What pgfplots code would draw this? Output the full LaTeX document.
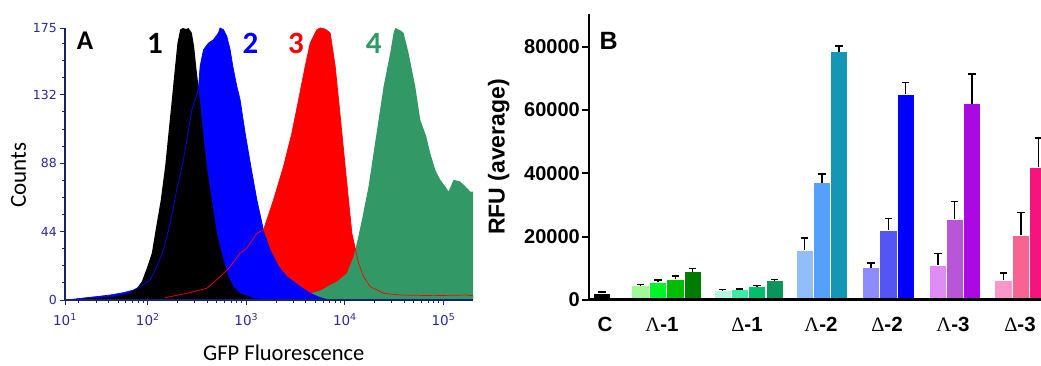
\documentclass[border=0pt]{standalone}
\usepackage{fontspec}
\setmainfont{Liberation Sans}
\newfontfamily\carlito{Carlito}
\newfontfamily\dejavu{DejaVu Sans}
\newfontfamily\lserif{Liberation Serif}
\usepackage{pgfplots}
\pgfplotsset{compat=1.18}
\definecolor{navyax}{RGB}{25,35,105}
\definecolor{navytxt}{RGB}{45,40,150}
\definecolor{hblue}{RGB}{0,0,255}
\definecolor{hred}{RGB}{255,0,0}
\definecolor{hgreen}{RGB}{50,152,102}
\definecolor{gA}{RGB}{160,248,150}
\definecolor{gB}{RGB}{0,245,40}
\definecolor{gC}{RGB}{0,190,0}
\definecolor{gD}{RGB}{0,125,0}
\definecolor{mA}{RGB}{180,245,225}
\definecolor{mB}{RGB}{60,235,170}
\definecolor{mC}{RGB}{0,190,110}
\definecolor{mD}{RGB}{10,150,90}
\definecolor{bA}{RGB}{145,190,250}
\definecolor{bB}{RGB}{85,160,250}
\definecolor{bC}{RGB}{20,150,180}
\definecolor{vA}{RGB}{140,140,255}
\definecolor{vB}{RGB}{85,85,245}
\definecolor{vC}{RGB}{0,0,255}
\definecolor{pA}{RGB}{225,140,245}
\definecolor{pB}{RGB}{185,85,215}
\definecolor{pC}{RGB}{170,10,225}
\definecolor{rA}{RGB}{250,150,200}
\definecolor{rB}{RGB}{248,100,145}
\definecolor{rC}{RGB}{245,20,125}
\pgfplotsset{
  rbar/.style={ybar, bar width=17.4, bar shift=0pt, draw=white, line width=0.5pt, fill=#1,
    error bars/.cd, y dir=plus, y explicit,
    error bar style={line width=1.5pt, black},
    error mark options={rotate=90, mark size=3.7pt, line width=1.5pt, black}},
}
\begin{document}
\begin{tikzpicture}[x=1pt,y=1pt]
\useasboundingbox (0,0) rectangle (1041,366);
% ---------------- Panel A ----------------
\begin{axis}[
  at={(65pt,66pt)}, anchor=south west, scale only axis,
  width=408pt, height=272pt,
  xmin=1.16, xmax=5.30, ymin=0, ymax=175,
  axis lines=left, axis line style={-, navyax},
  x axis line style={line width=1.8pt}, y axis line style={line width=1.2pt},
  xtick={1.16,2,3,4,5},
  xticklabels={10\textsuperscript{1},10\textsuperscript{2},10\textsuperscript{3},10\textsuperscript{4},10\textsuperscript{5}},
  minor xtick={1.301,1.477,1.602,1.699,1.778,1.845,1.903,1.954,
    2.301,2.477,2.602,2.699,2.778,2.845,2.903,2.954,
    3.301,3.477,3.602,3.699,3.778,3.845,3.903,3.954,
    4.301,4.477,4.602,4.699,4.778,4.845,4.903,4.954,5.301},
  ytick={0,44,88,132,175}, yticklabels={0,44,88,132,175},
  minor ytick={11,22,33,55,66,77,99,110,121,143,154,165},
  tick align=outside, major tick length=5pt, minor tick length=3pt,
  tick style={navyax, line width=0.9pt},
  yticklabel style={font=\dejavu\fontsize{12.5}{14}\selectfont, text=navytxt, inner sep=2pt, xshift=-1pt},
  xticklabel style={font=\dejavu\fontsize{13.5}{15}\selectfont, text=navytxt, yshift=-5pt},
  axis on top, clip=true,
]
\addplot[fill=hred, draw=none] coordinates {
(2.15,0)(2.176,1.5)(2.396,4.3)(2.599,7.5)(2.734,15)(2.836,21.5)(2.937,30.1)(3.005,33.3)(3.107,42.9)(3.174,45.1)(3.276,64.4)(3.377,85.9)(3.462,107.4)(3.530,128.8)(3.597,150.3)(3.648,165.3)(3.716,173.9)(3.750,175)(3.800,174.3)(3.851,171.8)(3.902,150.3)(3.936,128.8)(3.970,107.4)(4.003,85.9)(4.037,64.4)(4.071,42.9)(4.105,33.3)(4.139,23.6)(4.190,15)(4.257,8.6)(4.393,4.3)(4.562,3.2)(4.900,2.8)(5.239,3.2)(5.300,2.8)
} \closedcycle;
\addplot[fill=hgreen, draw=none] coordinates {
(3.2,0)(3.242,0.6)(3.445,1.5)(3.547,2.8)(3.648,4.3)(3.750,6.0)(3.851,9.7)(3.919,11.8)(4.020,17.2)(4.088,27.9)(4.129,38.6)(4.173,51.5)(4.240,73)(4.291,94.5)(4.342,115.9)(4.393,137.4)(4.460,158.9)(4.494,171.8)(4.511,175)(4.562,173.5)(4.596,171.8)(4.646,158.9)(4.714,137.4)(4.765,115.9)(4.826,105.2)(4.866,94.5)(4.917,83.7)(4.968,77.3)(5.019,73)(5.052,69.8)(5.103,77.3)(5.171,76.2)(5.222,73)(5.272,69.8)(5.300,69.8)
} \closedcycle;
\addplot[fill=hblue, draw=none] coordinates {
(1.20,0)(1.228,0.4)(1.381,1.5)(1.482,2.2)(1.618,3.2)(1.753,4.7)(1.854,6.4)(1.922,8.6)(2.024,12.9)(2.091,21.5)(2.159,32.2)(2.227,49.4)(2.294,70.9)(2.362,90.2)(2.413,109.5)(2.447,122.4)(2.491,131)(2.514,136.3)(2.531,150.3)(2.565,161)(2.616,165.3)(2.667,167.5)(2.717,171.8)(2.734,175)(2.768,173.9)(2.802,169.6)(2.836,161)(2.863,150.3)(2.904,137.4)(2.937,128.8)(2.988,107.4)(3.046,85.9)(3.107,64.4)(3.181,42.9)(3.242,32.2)(3.327,21.5)(3.411,15)(3.547,8.6)(3.648,4.3)(3.750,1.5)(3.817,0.4)(3.85,0)
} \closedcycle;
\addplot[fill=black, draw=none] coordinates {
(1.20,0)(1.228,0.4)(1.381,1.1)(1.516,1.5)(1.651,2.2)(1.787,3.9)(1.888,7.5)(1.939,11.8)(1.990,20.4)(2.041,30.1)(2.074,42.9)(2.132,64.4)(2.176,85.9)(2.210,107.4)(2.244,128.8)(2.277,150.3)(2.301,165.3)(2.328,173.9)(2.355,175)(2.389,174.3)(2.413,175)(2.447,171.8)(2.470,163.2)(2.491,150.3)(2.514,137.4)(2.548,115.9)(2.599,85.9)(2.650,64.4)(2.701,42.9)(2.768,25.8)(2.819,15.0)(2.870,8.6)(2.937,4.3)(3.073,1.1)(3.208,0)
} \closedcycle;
\addplot[hblue, line width=0.7pt] coordinates {
(1.20,0)(1.228,0.4)(1.381,1.5)(1.482,2.2)(1.618,3.2)(1.753,4.7)(1.854,6.4)(1.922,8.6)(2.024,12.9)(2.091,21.5)(2.159,32.2)(2.227,49.4)(2.294,70.9)(2.362,90.2)(2.413,109.5)(2.447,122.4)(2.491,131)(2.514,136.3)(2.531,150.3)(2.565,161)(2.616,165.3)(2.667,167.5)(2.717,171.8)(2.734,175)(2.768,173.9)(2.802,169.6)(2.836,161)(2.863,150.3)(2.904,137.4)(2.937,128.8)(2.988,107.4)(3.046,85.9)(3.107,64.4)(3.181,42.9)(3.242,32.2)(3.327,21.5)(3.411,15)(3.547,8.6)(3.648,4.3)(3.750,1.5)(3.817,0.4)(3.85,0)
};
\addplot[hred, line width=0.7pt] coordinates {
(2.176,1.5)(2.396,4.3)(2.599,7.5)(2.734,15)(2.836,21.5)(2.937,30.1)(3.005,33.3)(3.107,42.9)(3.174,45.1)(3.276,64.4)(3.377,85.9)(3.462,107.4)(3.530,128.8)(3.597,150.3)(3.648,165.3)(3.716,173.9)(3.750,175)(3.800,174.3)(3.851,171.8)(3.902,150.3)(3.936,128.8)(3.970,107.4)(4.003,85.9)(4.037,64.4)(4.071,42.9)(4.105,33.3)(4.139,23.6)(4.190,15)(4.257,8.6)(4.393,4.3)(4.562,3.2)(4.900,2.8)(5.239,3.2)(5.300,2.8)
};
\end{axis}
% ---------------- Panel B ----------------
\begin{axis}[
  at={(589pt,66pt)}, anchor=south west, scale only axis,
  width=452pt, height=286pt,
  xmin=589, xmax=1041, ymin=0, ymax=90300,
  axis lines=left, axis line style={-, black},
  x axis line style={line width=3pt}, y axis line style={line width=2.2pt},
  ytick={0,20000,40000,60000,80000}, yticklabels={0,20000,40000,60000,80000},
  scaled y ticks=false,
  xtick={605,662,747,821,887,953,1020},
  xticklabels={C,{\lserif\mdseries Λ}-1,{\lserif\mdseries Δ}-1,{\lserif\mdseries Λ}-2,{\lserif\mdseries Δ}-2,{\lserif\mdseries Λ}-3,{\lserif\mdseries Δ}-3},
  x tick style={draw=none}, y tick style={line width=2.2pt, black},
  tick align=outside, major tick length=7pt,
  yticklabel style={font=\bfseries\fontsize{20}{24}\selectfont, inner sep=1pt, xshift=-1pt},
  xticklabel style={font=\bfseries\fontsize{20.5}{24}\selectfont, yshift=-7pt},
  axis on top, clip=true,
]
\addplot[rbar=black] coordinates {(602,2100) +- (0,430)};
\addplot[rbar=gA] coordinates {(640.3,4530) +- (0,310)};
\addplot[rbar=gB] coordinates {(657.8,5580) +- (0,740)};
\addplot[rbar=gC] coordinates {(675.3,6530) +- (0,1050)};
\addplot[rbar=gD] coordinates {(692.7,8950) +- (0,1050)};
\addplot[rbar=mA] coordinates {(722.5,3050) +- (0,210)};
\addplot[rbar=mB] coordinates {(739.7,3260) +- (0,210)};
\addplot[rbar=mC] coordinates {(757,4210) +- (0,320)};
\addplot[rbar=mD] coordinates {(774.7,6110) +- (0,310)};
\addplot[rbar=bA] coordinates {(804.5,15800) +- (0,3790)};
\addplot[rbar=bB] coordinates {(821.8,37070) +- (0,2730)};
\addplot[rbar=bC] coordinates {(839,78450) +- (0,1790)};
\addplot[rbar=vA] coordinates {(871,10210) +- (0,1480)};
\addplot[rbar=vB] coordinates {(888.3,22110) +- (0,3690)};
\addplot[rbar=vC] coordinates {(905.7,65080) +- (0,3580)};
\addplot[rbar=pA] coordinates {(937.8,11060) +- (0,3680)};
\addplot[rbar=pB] coordinates {(954.5,25480) +- (0,5690)};
\addplot[rbar=pC] coordinates {(972,62020) +- (0,9370)};
\addplot[rbar=rA] coordinates {(1003.3,6210) +- (0,2320)};
\addplot[rbar=rB] coordinates {(1021,20430) +- (0,7160)};
\addplot[rbar=rC] coordinates {(1038.4,41910) +- (0,9270)};
\end{axis}
% ---------------- Texts ----------------
\node[inner sep=0, font=\carlito\bfseries\fontsize{27}{30}\selectfont] at (85,325.5) {A};
\node[inner sep=0, font=\carlito\bfseries\fontsize{31}{34}\selectfont] at (155,322.5) {1};
\node[inner sep=0, text=hblue, font=\carlito\bfseries\fontsize{31}{34}\selectfont] at (250.5,322.5) {2};
\node[inner sep=0, text=hred, font=\carlito\bfseries\fontsize{31}{34}\selectfont] at (296,322.5) {3};
\node[inner sep=0, text=hgreen, font=\carlito\bfseries\fontsize{31}{34}\selectfont] at (373.7,322.5) {4};
\node[inner sep=0, rotate=90, font=\carlito\fontsize{23}{26}\selectfont] at (18.5,191) {Counts};
\node[inner sep=0, font=\carlito\fontsize{22.5}{26}\selectfont] at (283.8,13.5) {GFP Fluorescence};
\node[inner sep=0, font=\bfseries\fontsize{25}{28}\selectfont] at (608.7,325) {B};
\node[inner sep=0, rotate=90, anchor=base, font=\bfseries\fontsize{23}{26}\selectfont] at (504.5,209) {RFU (average)};
\end{tikzpicture}
\end{document}
